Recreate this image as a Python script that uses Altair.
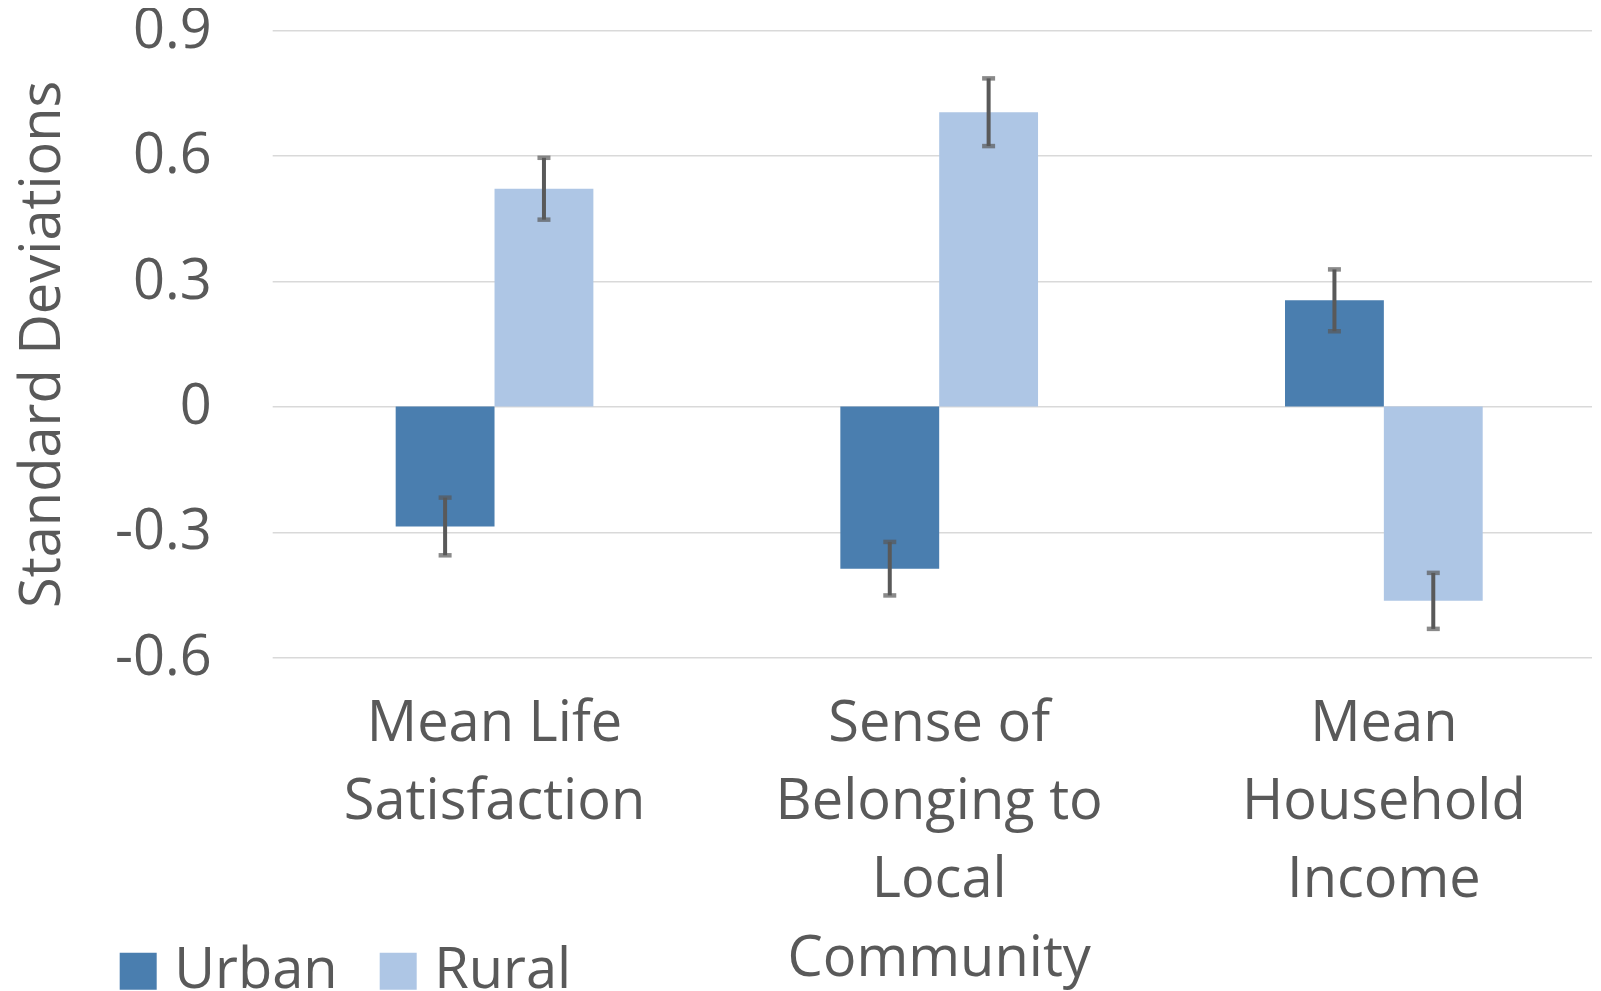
import altair as alt
import pandas as pd

categories = ["Mean Life Satisfaction", "Sense of Belonging to Local Community", "Mean Household Income"]
category_lines = [["Mean Life", "Satisfaction"], ["Sense of", "Belonging to", "Local", "Community"], ["Mean", "Household", "Income"]]
groups = ["Urban", "Rural"]
urban_values = [-0.287, -0.388, 0.254]
rural_values = [0.521, 0.704, -0.465]
urban_errors = [0.069, 0.064, 0.074]
rural_errors = [0.074, 0.081, 0.067]
y_ticks = [-0.6, -0.3, 0, 0.3, 0.6, 0.9]
colors = ["#4A7EAF", "#AEC6E5"]

rows = []
for i, cat in enumerate(categories):
    for g, vals, errs in (("Urban", urban_values, urban_errors), ("Rural", rural_values, rural_errors)):
        rows.append({"category": cat, "group": g, "value": vals[i],
                     "lo": vals[i] - errs[i], "hi": vals[i] + errs[i]})
df = pd.DataFrame(rows)

FONT = "Open Sans"
TXT = "#595959"
FS = 56

label_expr = ""
for cat, lines in zip(categories, category_lines):
    arr = "[" + ",".join("'" + l + "'" for l in lines) + "]"
    label_expr += f"datum.value == '{cat}' ? {arr} : "
label_expr += "datum.label"

x = alt.X("category:N", sort=categories, title=None,
          scale=alt.Scale(range=[0, 1334], paddingInner=0.5554, paddingOuter=0.2777),
          axis=alt.Axis(domain=False, ticks=False, grid=False, labelAngle=0,
                        labelFontSize=FS, labelFont=FONT, labelColor=TXT,
                        labelLineHeight=78.3, labelPadding=39, labelLimit=0,
                        labelOverlap=False, labelExpr=label_expr))
xo = alt.XOffset("group:N", sort=groups, scale=alt.Scale(paddingInner=0, paddingOuter=0))
yscale = alt.Scale(domain=[-0.6, 0.9], nice=False, zero=False)

bars = alt.Chart(df).mark_bar().encode(
    x=x, xOffset=xo,
    y=alt.Y("value:Q", scale=yscale, title="Standard Deviations",
            axis=alt.Axis(values=y_ticks, grid=True, gridColor="#d9d9d9", gridWidth=1.5,
                          domain=False, ticks=False, labelFontSize=FS, labelFont=FONT,
                          labelColor=TXT, labelPadding=61,
                          labelExpr="datum.value == 0 ? '0' : (datum.value < 0 ? '-' + format(-datum.value, '.1f') : format(datum.value, '.1f'))",
                          titleFontSize=FS, titleFont=FONT, titleColor=TXT, titleFontWeight="normal",
                          titleX=-213, titleY=313.5, titleAngle=-90, titleAlign="center",
                          titleBaseline="alphabetic")),
    color=alt.Color("group:N", sort=groups, scale=alt.Scale(domain=groups, range=colors),
                    legend=alt.Legend(orient="none", legendX=-162, legendY=913, direction="horizontal",
                                      title=None, symbolType="square", symbolSize=1369,
                                      symbolStrokeWidth=0, labelFontSize=FS, labelFont=FONT,
                                      labelColor=TXT, labelOffset=8, labelLimit=0,
                                      columnPadding=32, padding=0))
)

err = alt.Chart(df).mark_rule(color="#595959", strokeWidth=4).encode(
    x=x, xOffset=xo, y=alt.Y("lo:Q", scale=yscale), y2="hi:Q")
cap_lo = alt.Chart(df).mark_tick(color="#595959", thickness=4.5, size=13).encode(
    x=x, xOffset=xo, y=alt.Y("lo:Q", scale=yscale))
cap_hi = alt.Chart(df).mark_tick(color="#595959", thickness=4.5, size=13).encode(
    x=x, xOffset=xo, y=alt.Y("hi:Q", scale=yscale))

chart = alt.layer(bars, err, cap_lo, cap_hi).properties(
    width=1320, height=627,
    autosize=alt.AutoSizeParams(type="none"),
    padding={"left": 264.2, "top": 22.3, "right": 0, "bottom": 333.7},
).configure_view(stroke=None)

chart.save("out.html", embed_options={"renderer": "svg", "actions": False})
